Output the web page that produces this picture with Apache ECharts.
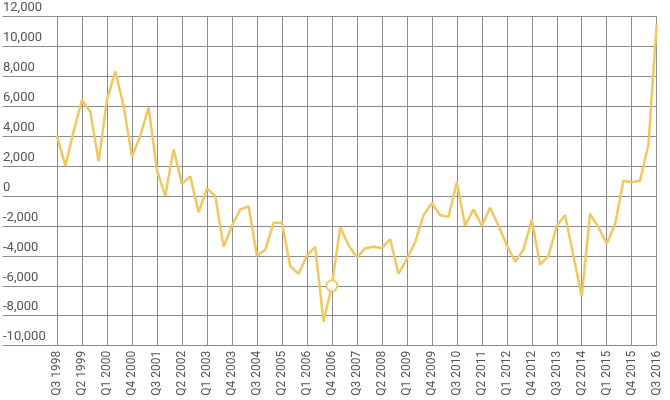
<!DOCTYPE html>
<html>
<head>
<meta charset="utf-8">
<script src="https://cdn.jsdelivr.net/npm/echarts@6/dist/echarts.min.js"></script>
<style>
  html, body { margin: 0; padding: 0; background: #fff; }
  #chart { width: 670px; height: 400px; }
</style>
</head>
<body>
<div id="chart"></div>
<script>
const categories = [
  "Q3 1998","Q4 1998","Q1 1999","Q2 1999","Q3 1999","Q4 1999",
  "Q1 2000","Q2 2000","Q3 2000","Q4 2000","Q1 2001","Q2 2001",
  "Q3 2001","Q4 2001","Q1 2002","Q2 2002","Q3 2002","Q4 2002",
  "Q1 2003","Q2 2003","Q3 2003","Q4 2003","Q1 2004","Q2 2004",
  "Q3 2004","Q4 2004","Q1 2005","Q2 2005","Q3 2005","Q4 2005",
  "Q1 2006","Q2 2006","Q3 2006","Q4 2006","Q1 2007","Q2 2007",
  "Q3 2007","Q4 2007","Q1 2008","Q2 2008","Q3 2008","Q4 2008",
  "Q1 2009","Q2 2009","Q3 2009","Q4 2009","Q1 2010","Q2 2010",
  "Q3 2010","Q4 2010","Q1 2011","Q2 2011","Q3 2011","Q4 2011",
  "Q1 2012","Q2 2012","Q3 2012","Q4 2012","Q1 2013","Q2 2013",
  "Q3 2013","Q4 2013","Q1 2014","Q2 2014","Q3 2014","Q4 2014",
  "Q1 2015","Q2 2015","Q3 2015","Q4 2015","Q1 2016","Q2 2016",
  "Q3 2016"
];

const values = [
  4000, 2000, 4300, 6400, 5600, 2300,
  6400, 8300, 6000, 2600, 4000, 5900,
  1700, 0, 3100, 800, 1300, -1100,
  500, 0, -3400, -2000, -900, -700,
  -4000, -3600, -1800, -1800, -4700, -5200,
  -4000, -3400, -8400, -6000, -2100, -3300,
  -4100, -3500, -3400, -3500, -2900, -5200,
  -4200, -3100, -1300, -500, -1300, -1400,
  900, -2000, -900, -2000, -800, -2000,
  -3300, -4400, -3600, -1600, -4600, -4000,
  -2000, -1300, -4000, -6700, -1200, -2100,
  -3200, -1900, 1000, 900, 1000, 3400,
  11500
];

const highlightIndex = 33;

const yTicks = { min: -10000, max: 12000, interval: 2000 };

const lineColor = '#f1c85f';
const gridColor = '#8c8c8c';
const textColor = '#555555';

const seriesData = values.map((v, i) => i === highlightIndex
  ? { value: v, symbol: 'circle', symbolSize: 11,
      itemStyle: { color: '#ffffff', borderColor: lineColor, borderWidth: 2 } }
  : { value: v });

const chart = echarts.init(document.getElementById('chart'), null, { renderer: 'canvas' });
chart.setOption({
  animation: false,
  backgroundColor: '#ffffff',
  grid: { left: 54.3, right: 13.3, top: 16, bottom: 54.3, containLabel: false },
  xAxis: {
    type: 'category',
    data: categories,
    boundaryGap: false,
    axisLine: { show: false },
    axisTick: { show: false },
    axisLabel: {
      interval: 2,
      rotate: 90,
      margin: 5,
      color: textColor,
      fontFamily: 'Roboto',
      fontSize: 12
    },
    splitLine: {
      show: true,
      interval: 2,
      lineStyle: { color: gridColor, width: 1 }
    }
  },
  yAxis: {
    type: 'value',
    min: yTicks.min,
    max: yTicks.max,
    interval: yTicks.interval,
    axisLine: { show: false },
    axisTick: { show: true, length: 54.3, lineStyle: { color: gridColor, width: 1 } },
    axisLabel: {
      align: 'left',
      verticalAlign: 'bottom',
      margin: 54,
      padding: [0, 0, 2, 0],
      color: textColor,
      fontFamily: 'Roboto',
      fontSize: 13,
      formatter: v => v.toLocaleString('en-US')
    },
    splitLine: { show: true, lineStyle: { color: gridColor, width: 1 } }
  },
  series: [{
    type: 'line',
    data: seriesData,
    symbol: 'none',
    showSymbol: true,
    lineStyle: { color: lineColor, width: 2.5 },
    itemStyle: { color: lineColor },
    z: 3
  }]
});
</script>
</body>
</html>
